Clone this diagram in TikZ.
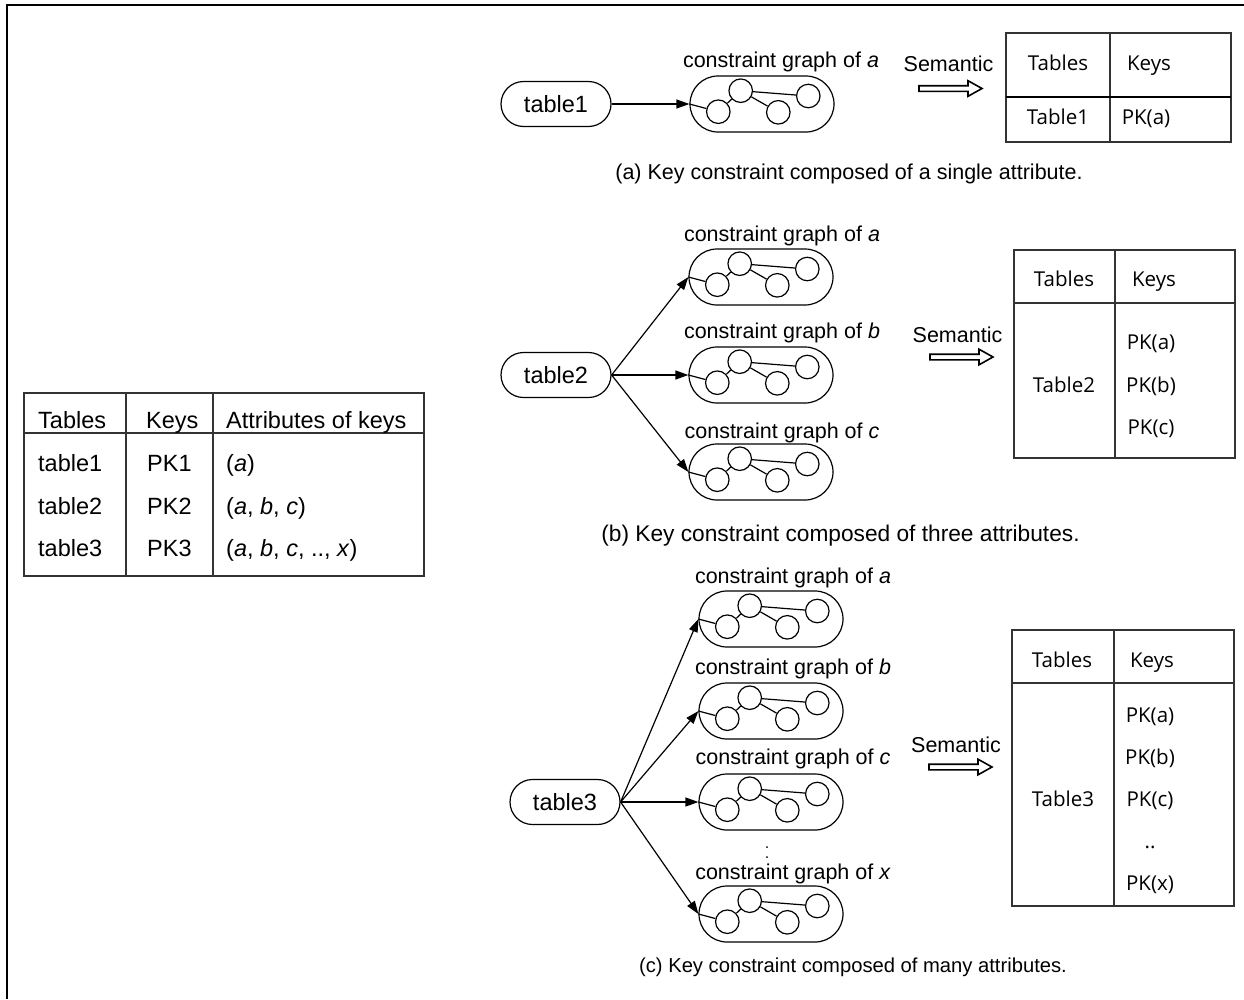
\documentclass[tikz,border=0pt]{standalone}
\usepackage{fontspec}
\setmainfont{Liberation Sans}
\newfontfamily\tabfont{Open Sans}
\usetikzlibrary{shapes.misc,arrows.meta}
\tikzset{
  lbl/.style={font=\fontsize{21.5}{24}\selectfont, inner sep=0pt, text height=15pt, text depth=0pt},
  ttxt/.style={font=\tabfont\fontsize{20.5}{24}\selectfont, inner sep=0pt, text height=15pt, text depth=0pt},
  ltxt/.style={font=\fontsize{23.5}{26}\selectfont, inner sep=0pt, text height=17pt, text depth=0pt, anchor=west},
  tpill/.style={draw, rounded rectangle, line width=1.2pt, minimum width=110pt, minimum height=45pt, inner sep=0pt, font=\fontsize{23.5}{26}\selectfont},
  arr/.style={line width=1.2pt, -{Triangle[length=13pt,width=9pt]}},
  tline/.style={line width=1.3pt, draw=black!80},
  gcirc/.style={draw, circle, line width=1.2pt, minimum size=23.5pt, inner sep=0pt},
  cg/.pic={
    \node[draw, rounded rectangle, line width=1.2pt, minimum width=144pt, minimum height=56pt, inner sep=0pt] (-pill) at (0,0) {};
    \node[gcirc] (-c1) at (-43.7,7.7) {};
    \node[gcirc] (-c2) at (-21.3,-13.3) {};
    \node[gcirc] (-c3) at (16.3,8.3) {};
    \node[gcirc] (-c4) at (46.3,-8) {};
    \draw[line width=1.2pt] (-pill.west) -- (-c1) (-c1) -- (-c2) (-c2) -- (-c3) (-c2) -- (-c4);
  },
  sem/.pic={
    \draw[line width=1.6pt, fill=white] (0,-2.8) -- (49,-2.8) -- (49,-7.8) -- (63,0) -- (49,7.8) -- (49,2.8) -- (0,2.8) -- cycle;
  }
}
\begin{document}
\begin{tikzpicture}[x=1pt,y=-1pt]
\useasboundingbox (0,0) rectangle (1244,999);
\fill[white] (0,0) rectangle (1244,999);
% frame
\draw[line width=2pt] (7,999) -- (7,5) -- (1244,5);

% ---------- left table ----------
\draw[tline] (24,393) rectangle (424,576);
\draw[tline] (24,433) -- (424,433);
\draw[tline] (126,393) -- (126,576);
\draw[tline] (213,393) -- (213,576);
\node[ltxt] (lh1) at (38,420) {Tables};
\node[ltxt] (lh2) at (146,420) {Keys};
\node[ltxt] (lh3) at (226,420) {Attributes of keys};
\node[ltxt] (l11) at (38,463) {table1};
\node[ltxt] (l12) at (147,463) {PK1};
\node[ltxt] (l13) at (226,463) {(\textit{a})};
\node[ltxt] (l21) at (38,506) {table2};
\node[ltxt] (l22) at (147,506) {PK2};
\node[ltxt] (l23) at (226,506) {(\textit{a}, \textit{b}, \textit{c})};
\node[ltxt] (l31) at (38,548) {table3};
\node[ltxt] (l32) at (147,548) {PK3};
\node[ltxt] (l33) at (226,548) {(\textit{a}, \textit{b}, \textit{c}, .., \textit{x})};

% ---------- panel (a) ----------
\node[tpill] (t1) at (556,104) {table1};
\pic (ga) at (762,104) {cg};
\draw[arr] (t1.east) -- (ga-pill.west);
\node[lbl] (la) at (781,60) {constraint graph of \textit{a}};
\node[lbl] (sa) at (948.5,64) {Semantic};
\pic at (919,88.5) {sem};
\draw[tline] (1006,33) rectangle (1231,142);
\draw[tline] (1110,33) -- (1110,142);
\draw[line width=2pt] (1006,97) -- (1231,97);
\node[ttxt] (ta1) at (1058,63) {Tables};
\node[ttxt] (ta2) at (1149,63) {Keys};
\node[ttxt] (ta3) at (1058,117) {Table1};
\node[ttxt] (ta4) at (1146,117) {PK(a)};
\node[lbl] (capa) at (849,172) {(a) Key constraint composed of a single attribute.};

% ---------- panel (b) ----------
\node[tpill] (t2) at (556,375) {table2};
\pic (gb1) at (761,277) {cg};
\pic (gb2) at (761,375) {cg};
\pic (gb3) at (761,472) {cg};
\draw[arr] (t2.east) -- (gb1-pill.west);
\draw[arr] (t2.east) -- (gb2-pill.west);
\draw[arr] (t2.east) -- (gb3-pill.west);
\node[lbl] (lb1) at (782,234) {constraint graph of \textit{a}};
\node[lbl] (lb2) at (782,331) {constraint graph of \textit{b}};
\node[lbl] (lb3) at (782,431) {constraint graph of \textit{c}};
\node[lbl] (sb) at (957.5,335) {Semantic};
\pic at (930,357) {sem};
\draw[tline] (1014,250) rectangle (1235,458);
\draw[tline] (1115,250) -- (1115,458);
\draw[tline] (1014,303) -- (1235,303);
\node[ttxt] (tb1) at (1064,279) {Tables};
\node[ttxt] (tb2) at (1154,279) {Keys};
\node[ttxt] (tb3) at (1064,385) {Table2};
\node[ttxt] (tb4) at (1151,342) {PK(a)};
\node[ttxt] (tb5) at (1151,385) {PK(b)};
\node[ttxt] (tb6) at (1151,427) {PK(c)};
\node[lbl, font=\fontsize{22.7}{25}\selectfont] (capb) at (840.5,534) {(b) Key constraint composed of three attributes.};

% ---------- panel (c) ----------
\node[tpill] (t3) at (565,802) {table3};
\pic (gc1) at (771,619) {cg};
\pic (gc2) at (771,711) {cg};
\pic (gc3) at (771,802) {cg};
\pic (gc4) at (771,914) {cg};
\draw[arr] (t3.east) -- (gc1-pill.west);
\draw[arr] (t3.east) -- (gc2-pill.west);
\draw[arr] (t3.east) -- (gc3-pill.west);
\draw[arr] (t3.east) -- (gc4-pill.west);
\node[lbl] (lc1) at (793,576) {constraint graph of \textit{a}};
\node[lbl] (lc2) at (793,667) {constraint graph of \textit{b}};
\node[lbl] (lc3) at (793,757) {constraint graph of \textit{c}};
\node[lbl] (lc4) at (793,872) {constraint graph of \textit{x}};
\fill (767,847) circle (1pt) (767,857) circle (1pt);
\node[lbl] (sc) at (956,745) {Semantic};
\pic at (929,767) {sem};
\draw[tline] (1012,630) rectangle (1234,906);
\draw[tline] (1114,630) -- (1114,906);
\draw[tline] (1012,683) -- (1234,683);
\node[ttxt] (tc1) at (1062,660) {Tables};
\node[ttxt] (tc2) at (1152,660) {Keys};
\node[ttxt] (tc3) at (1063,799) {Table3};
\node[ttxt] (tc4) at (1150,715) {PK(a)};
\node[ttxt] (tc5) at (1150,757) {PK(b)};
\node[ttxt] (tc6) at (1150,799) {PK(c)};
\node[ttxt] (tc7) at (1150,841) {..};
\node[ttxt] (tc8) at (1150,883) {PK(x)};
\node[lbl, font=\fontsize{20.2}{23}\selectfont] (capc) at (853,965) {(c) Key constraint composed of many attributes.};
\end{tikzpicture}
\end{document}
